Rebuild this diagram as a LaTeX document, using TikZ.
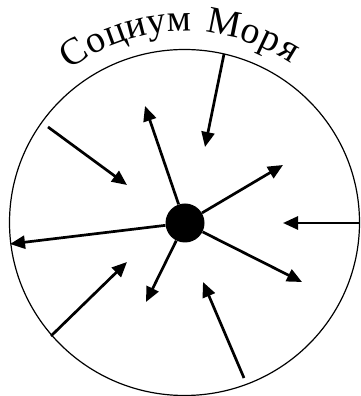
\documentclass[tikz,border=0pt]{standalone}
\usepackage{fontspec}
\setmainfont{Liberation Serif}
\usetikzlibrary{arrows.meta,calc}
\tikzset{
  arr/.style={line width=2.7pt, -{Triangle[length=15pt,width=13pt]}},
  hubdot/.style={circle, fill=black, minimum size=39pt, inner sep=0pt},
  rim/.style={line width=1.2pt},
  titlechar/.style={inner sep=0pt, anchor=base, font=\fontsize{38}{42}\selectfont}
}
\begin{document}
\begin{tikzpicture}[x=1pt,y=1pt]
\useasboundingbox (0,0) rectangle (360,396);
% outer circle
\coordinate (c0) at (184.5,173.5);
\draw[rim] (c0) ellipse [x radius=175, y radius=173];
% curved title: Социум Моря
\foreach \ch/\ang [count=\i] in {С/123.0, о/116.2, ц/110.2, и/104.1, у/98.0, м/91.4, М/78.6, о/70.6, р/64.7, я/58.7}
  \node[titlechar, rotate=\ang-90] (title\i) at ($(c0)+(\ang:191)$) {\ch};
% hub
\node[hubdot] (hub) at (185,173) {};
% inward arrows
\coordinate (s1) at (224,342); \coordinate (e1) at (205,249);
\coordinate (s2) at (48,269);  \coordinate (e2) at (127,211);
\coordinate (s3) at (359,173); \coordinate (e3) at (283,173);
\coordinate (s4) at (51,60);   \coordinate (e4) at (127,134);
\coordinate (s5) at (244,18);  \coordinate (e5) at (203,114);
\draw[arr] (s1) -- (e1);
\draw[arr] (s2) -- (e2);
\draw[arr] (s3) -- (e3);
\draw[arr] (s4) -- (e4);
\draw[arr] (s5) -- (e5);
% outward arrows
\coordinate (o1) at (145,290);
\coordinate (o2) at (283,231);
\coordinate (o3) at (10,152);
\coordinate (o4) at (302,114);
\coordinate (o5) at (146,94);
\draw[arr] (hub) -- (o1);
\draw[arr] (hub) -- (o2);
\draw[arr] (hub) -- (o3);
\draw[arr] (hub) -- (o4);
\draw[arr] (hub) -- (o5);
\end{tikzpicture}
\end{document}
